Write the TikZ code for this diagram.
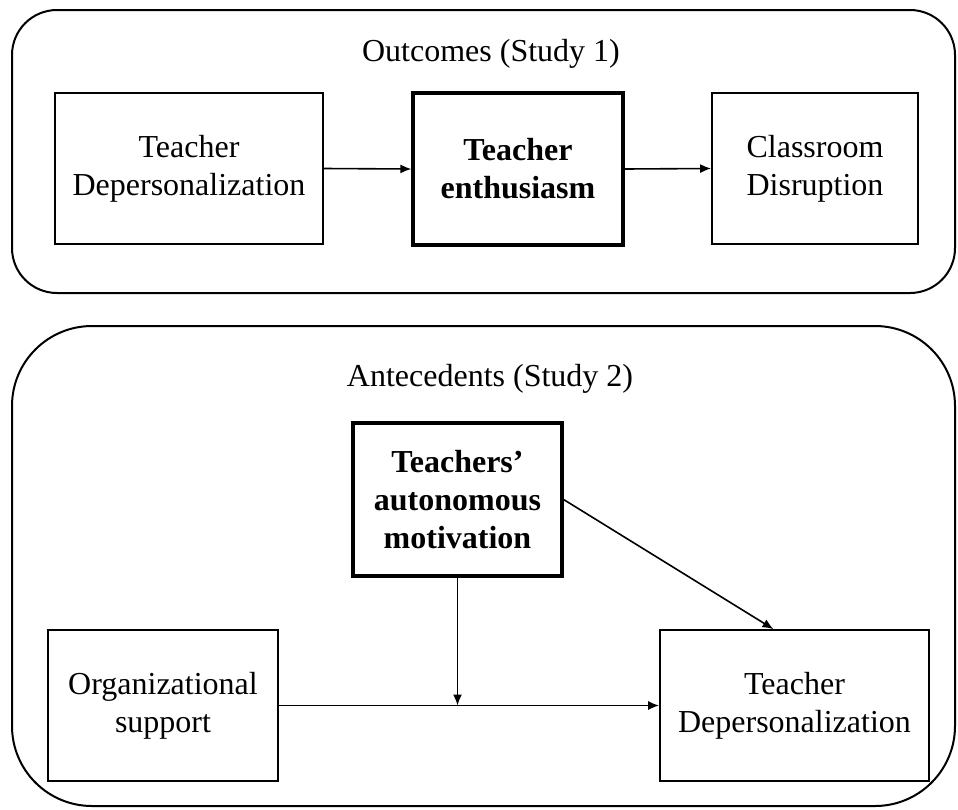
\documentclass[tikz,border=0pt]{standalone}
\usepackage{fontspec}
\setmainfont{Liberation Serif}
\usetikzlibrary{arrows.meta,calc}
\begin{document}
\begin{tikzpicture}[x=1pt,y=-1pt,
  every node/.style={inner sep=0pt,align=center,font=\fontsize{32}{38}\selectfont},
  plainbox/.style={draw,line width=1.7pt,minimum width=#1,minimum height=151pt},
  boldbox/.style={draw,line width=3.2pt,minimum width=#1,minimum height=152pt,font=\fontsize{32}{38}\selectfont\bfseries},
  frame/.style={draw,line width=2pt},
  arr/.style={line width=1.6pt,-{Latex[length=11pt,width=9pt]}}]
\useasboundingbox (0,0) rectangle (958,809);
% frames
\draw[frame,rounded corners=45pt] (12,10) rectangle (955,293);
\draw[frame,rounded corners=80pt] (12,326) rectangle (955,806);
% titles
\node (t1) at (491,54) {Outcomes (Study 1)};
\node (t2) at (490,379) {Antecedents (Study 2)};
% top row
\node[plainbox=268pt] (dep1) at (189,168.5) {Teacher\\Depersonalization};
\node[boldbox=210pt] (ent) at (518,169) {Teacher\\enthusiasm};
\node[plainbox=206pt] (dis) at (815,168.5) {Classroom\\Disruption};
\draw[arr] (dep1.east) -- (ent.west);
\draw[arr] (ent.east) -- (dis.west);
% bottom
\node[boldbox=209pt,minimum height=153pt] (tam) at (457.5,499.5) {Teachers’\\autonomous\\motivation};
\node[plainbox=230pt] (org) at (163,705.5) {Organizational\\support};
\node[plainbox=269pt] (dep2) at (794.5,705.5) {Teacher\\Depersonalization};
\draw[arr] (org.east) -- (dep2.west);
\draw[arr] (tam.south) -- (tam.south |- org.east);
\draw[arr] (tam.east) -- ($(dep2.north)+(-21,0)$);
\end{tikzpicture}
\end{document}
